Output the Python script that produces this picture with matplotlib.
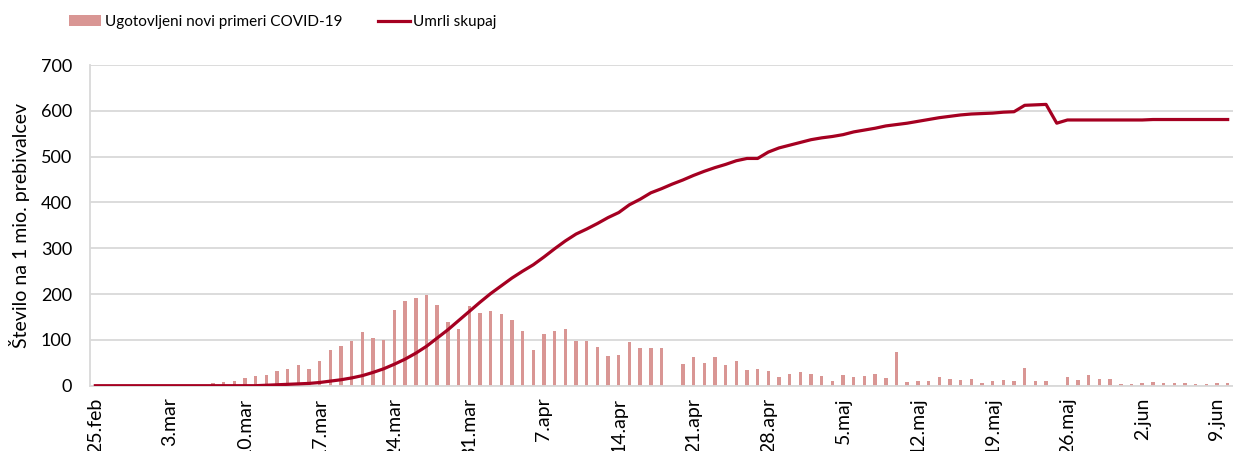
import matplotlib
matplotlib.use("Agg")
import matplotlib.pyplot as plt
import numpy as np

# dnevi od 25.feb do 10.jun
n_dni = 107
tick_dni = list(range(0, 106, 7))
tick_oznake = ["25.feb", "3.mar", "10.mar", "17.mar", "24.mar", "31.mar", "7.apr",
               "14.apr", "21.apr", "28.apr", "5.maj", "12.maj", "19.maj", "26.maj",
               "2.jun", "9.jun"]

# ugotovljeni novi primeri (na 1 mio. prebivalcev)
novi = [0, 0, 0, 0, 0, 0, 0, 0, 0, 0, 0,
        5, 7, 10, 17, 21, 24, 33, 36, 46, 36,
        54, 79, 87, 98, 117, 104, 100, 166, 184, 192,
        197, 177, 139, 124, 175, 159, 163, 157, 144, 119,
        78, 112, 120, 124, 98, 98, 85, 65, 67, 96,
        82, 82, 82, -3, 48, 63, 50, 62, 45, 54,
        35, 36, 33, 18, 26, 29, 26, 21, 10, 23,
        19, 21, 26, 17, 74, 9, 10, 10, 18, 14,
        12, 14, 6, 10, 12, 11, 39, 10, 10, -3,
        18, 12, 24, 15, 15, 4, 4, 6, 7, 6,
        6, 6, 4, 3, 6, 6]

# umrli skupaj
umrli = [0, 0, 0, 0, 0, 0, 0, 0, 0, 0, 0, 0, 0, 0, 0, 0,
         1, 2, 3, 4, 5, 7, 10, 13, 17, 22, 29, 37, 47, 58, 71,
         86, 104, 122, 142, 162, 182, 201, 218, 235, 250,
         264, 281, 299, 316, 331, 342, 354, 367, 378, 395,
         407, 421, 430, 440, 449, 459, 468, 476, 483, 491,
         496, 496, 510, 519, 525, 531, 537, 541, 544, 548,
         554, 558, 562, 567, 570, 573, 577, 581, 585, 588,
         591, 593, 594, 595, 597, 598, 612, 613, 614, 573,
         580, 580, 580, 580, 580, 580, 580, 580, 581, 581,
         581, 581, 581, 581, 581, 581]

plt.rcParams['font.family'] = ['Lato', 'DejaVu Sans']
plt.rcParams['font.size'] = 13

fig = plt.figure(figsize=(12.33, 4.51), dpi=100)
ax = fig.add_axes([90 / 1233, 1 - 385.7 / 451, 1 - 90 / 1233, (385.7 - 65) / 451])

x = np.arange(n_dni)
stolpci = ax.bar(x, novi, width=0.32, color="#d99694", zorder=2)
crta, = ax.plot(x, umrli, color="#a50021", lw=2.3, zorder=3)

ax.set_xlim(-0.5, n_dni - 0.5)
ax.set_ylim(0, 700)
ax.set_yticks(range(0, 701, 100))
ax.set_xticks(tick_dni)
ax.set_xticklabels(tick_oznake, rotation=90, va="top", ha="center", fontsize=14)
ax.tick_params(axis="both", length=0, colors="black")
ax.tick_params(axis="y", pad=13)
ax.tick_params(axis="x", pad=8.5)
ax.grid(axis="y", color="#d9d9d9", lw=1.3, zorder=0)
ax.set_axisbelow(True)
for s in ["top", "right"]:
    ax.spines[s].set_visible(False)
for s in ["left", "bottom"]:
    ax.spines[s].set_color("#d9d9d9")
    ax.spines[s].set_linewidth(1.3)
ax.set_ylabel("Število na 1 mio. prebivalcev", fontsize=14)
ax.yaxis.set_label_coords(-60 / 1143, 0.5)

fig.legend([stolpci, crta], ["Ugotovljeni novi primeri COVID-19", "Umrli skupaj"],
           loc="center left", bbox_to_anchor=(69 / 1233, 1 - 22 / 451), ncol=2,
           frameon=False, fontsize=11, handlelength=2.1, handletextpad=0.25,
           columnspacing=2.3, borderaxespad=0, borderpad=0)

plt.savefig("out.png", dpi=100)
